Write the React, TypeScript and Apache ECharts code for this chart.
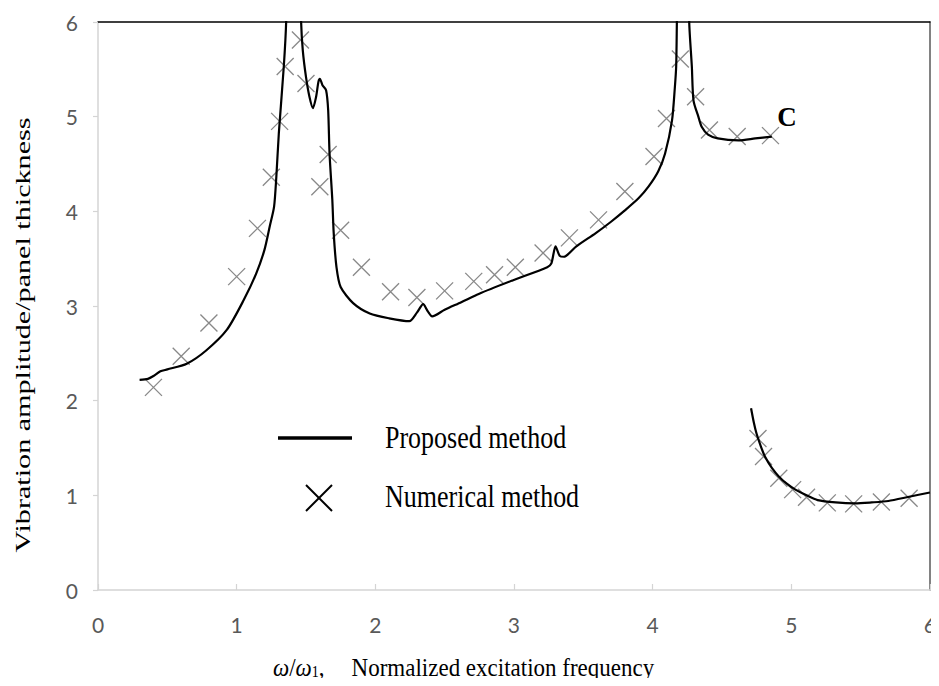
import React, { useEffect, useRef } from "react";
import * as echarts from "echarts";

// Proposed method (analytical), upper branch "C" – [frequency ratio, amplitude]
const proposedUpper: number[][] = [
  [0.30, 2.22], [0.36, 2.23], [0.40, 2.26], [0.45, 2.31], [0.50, 2.33],
  [0.64, 2.39], [0.78, 2.53], [0.93, 2.75], [1.05, 3.06], [1.14, 3.34],
  [1.20, 3.59], [1.24, 3.85], [1.27, 4.05], [1.286, 4.36], [1.304, 4.82],
  [1.34, 5.53], [1.357, 6.0], [1.368, 7.0], [1.40, 8.5], [1.45, 7.0],
  [1.465, 6.0], [1.477, 5.70], [1.50, 5.42], [1.525, 5.21], [1.55, 5.09],
  [1.573, 5.21], [1.59, 5.37], [1.60, 5.40], [1.62, 5.33], [1.645, 5.28],
  [1.66, 5.07], [1.67, 4.61], [1.69, 4.12], [1.70, 3.77], [1.72, 3.41],
  [1.75, 3.20], [1.84, 3.03], [1.96, 2.92], [2.10, 2.87], [2.245, 2.84],
  [2.30, 2.93], [2.345, 3.02], [2.38, 2.94], [2.41, 2.89], [2.50, 2.96],
  [2.62, 3.04], [2.75, 3.13], [2.99, 3.27], [3.24, 3.41], [3.27, 3.45],
  [3.30, 3.63], [3.33, 3.53], [3.36, 3.52], [3.45, 3.63], [3.59, 3.77],
  [3.70, 3.89], [3.80, 4.01], [3.90, 4.14], [3.97, 4.26], [4.04, 4.42],
  [4.09, 4.61], [4.14, 4.96], [4.16, 5.3], [4.17, 5.53], [4.175, 6.0],
  [4.19, 7.5], [4.22, 8.5], [4.25, 7.5], [4.264, 6.0], [4.283, 5.53],
  [4.295, 5.17], [4.33, 5.0], [4.355, 4.89], [4.40, 4.81], [4.47, 4.77],
  [4.62, 4.75], [4.74, 4.77], [4.86, 4.79],
];

// Proposed method, lower branch
const proposedLower: number[][] = [
  [4.71, 1.92], [4.73, 1.77], [4.75, 1.65], [4.78, 1.52], [4.81, 1.41],
  [4.86, 1.29], [4.91, 1.20], [4.97, 1.12], [5.03, 1.06], [5.11, 1.00],
  [5.19, 0.95], [5.32, 0.925], [5.46, 0.915], [5.58, 0.925], [5.70, 0.94],
  [5.85, 0.985], [6.00, 1.03],
];

// Numerical method
const numerical: number[][] = [
  [0.40, 2.14], [0.60, 2.47], [0.80, 2.82], [1.00, 3.31], [1.15, 3.82],
  [1.25, 4.36], [1.31, 4.95], [1.35, 5.53], [1.46, 5.81], [1.50, 5.35],
  [1.60, 4.26], [1.66, 4.60], [1.75, 3.80], [1.90, 3.41], [2.11, 3.15],
  [2.30, 3.09], [2.50, 3.16], [2.71, 3.26], [2.86, 3.33], [3.01, 3.41],
  [3.21, 3.56], [3.40, 3.72], [3.61, 3.91], [3.80, 4.21], [4.01, 4.58],
  [4.10, 4.98], [4.20, 5.61], [4.31, 5.21], [4.41, 4.86], [4.61, 4.79],
  [4.85, 4.80],
  [4.76, 1.60], [4.80, 1.41], [4.91, 1.18], [5.01, 1.06], [5.11, 0.98],
  [5.26, 0.92], [5.45, 0.91], [5.65, 0.93], [5.85, 0.97],
];

const xTicks = [0, 1, 2, 3, 4, 5, 6];
const yTicks = [0, 1, 2, 3, 4, 5, 6];

const yTitle = "Vibration amplitude/panel thickness";
const xTitleRest = "Normalized excitation frequency";
const legendNames = ["Proposed method", "Numerical method"];
const branchLabel = "C";

const SERIF = "'Liberation Serif', 'Times New Roman', serif";
const SANS = "Lato, 'Open Sans', sans-serif";

export default function App() {
  const ref = useRef<HTMLDivElement>(null);

  useEffect(() => {
    if (!ref.current) return;
    const chart = echarts.init(ref.current, undefined, { renderer: "svg" });

    const crossPath = "path://M0,0L10,10M10,0L0,10";

    chart.setOption({
      animation: false,
      backgroundColor: "#ffffff",
      grid: { left: 98, right: 7, top: 22, bottom: 96, containLabel: false },
      xAxis: [
        {
          type: "value",
          position: "bottom",
          min: xTicks[0],
          max: xTicks[xTicks.length - 1],
          interval: 1,
          axisLine: { show: true, onZero: false, lineStyle: { color: "#d4d4d4", width: 1.5 } },
          axisTick: { show: true, inside: true, length: 6, lineStyle: { color: "#d4d4d4", width: 1.2 } },
          axisLabel: { color: "#595959", fontSize: 21, fontFamily: SANS, margin: 24 },
          splitLine: { show: false },
        },
        {
          type: "value",
          position: "top",
          min: 0,
          max: 6,
          interval: 1,
          axisLine: { show: true, onZero: false, lineStyle: { color: "#000000", width: 1.5 } },
          axisTick: { show: false },
          axisLabel: { show: false },
          splitLine: { show: false },
        },
      ],
      yAxis: [
        {
          type: "value",
          position: "left",
          min: yTicks[0],
          max: yTicks[yTicks.length - 1],
          interval: 1,
          axisLine: { show: true, onZero: false, lineStyle: { color: "#d4d4d4", width: 1.5 } },
          axisTick: { show: true, inside: false, length: 5, lineStyle: { color: "#d4d4d4", width: 1.2 } },
          axisLabel: { color: "#595959", fontSize: 21, fontFamily: SANS, margin: 20 },
          splitLine: { show: false },
        },
        {
          type: "value",
          position: "right",
          min: 0,
          max: 6,
          interval: 1,
          axisLine: { show: true, onZero: false, lineStyle: { color: "#595959", width: 1.5 } },
          axisTick: { show: false },
          axisLabel: { show: false },
          splitLine: { show: false },
        },
      ],
      series: [
        {
          name: legendNames[0],
          type: "line",
          data: proposedUpper,
          showSymbol: false,
          smooth: 0.25,
          clip: true,
          lineStyle: { color: "#000000", width: 2.2 },
          z: 3,
        },
        {
          name: legendNames[0] + " (lower)",
          type: "line",
          data: proposedLower,
          showSymbol: false,
          smooth: 0.25,
          clip: true,
          lineStyle: { color: "#000000", width: 2.2 },
          z: 3,
        },
        {
          name: legendNames[1],
          type: "scatter",
          data: numerical,
          symbol: crossPath,
          symbolSize: 17,
          itemStyle: { color: "rgba(0,0,0,0)", borderColor: "#6a6a6a", borderWidth: 1.3 },
          z: 2,
        },
      ],
      graphic: [
        {
          type: "text",
          x: 22,
          y: 335,
          rotation: Math.PI / 2,
          scaleX: 1.37,
          style: {
            text: yTitle,
            font: `22px ${SERIF}`,
            fill: "#000000",
            align: "center",
            verticalAlign: "middle",
          },
        },
        {
          type: "text",
          x: 273,
          y: 667,
          scaleY: 1.12,
          style: {
            text: `{w|ω}{n|/}{w|ω}{s|1}{n|,}{m|${xTitleRest}}`,
            fill: "#000000",
            align: "left",
            verticalAlign: "middle",
            rich: {
              w: { fontFamily: SERIF, fontStyle: "italic", fontSize: 23, fill: "#000" },
              n: { fontFamily: SERIF, fontSize: 23, fill: "#000" },
              s: { fontFamily: SERIF, fontSize: 14, fill: "#000", verticalAlign: "bottom" },
              m: { fontFamily: SERIF, fontSize: 23, fill: "#000", padding: [0, 0, 0, 27] },
            },
          },
        },
        {
          type: "line",
          shape: { x1: 278, y1: 438, x2: 352, y2: 438 },
          style: { stroke: "#000000", lineWidth: 3.5 },
        },
        {
          type: "text",
          x: 385,
          y: 437,
          scaleY: 1.2,
          style: {
            text: legendNames[0],
            font: `26px ${SERIF}`,
            fill: "#000000",
            align: "left",
            verticalAlign: "middle",
          },
        },
        {
          type: "line",
          shape: { x1: 306, y1: 485, x2: 332, y2: 511 },
          style: { stroke: "#000000", lineWidth: 2 },
        },
        {
          type: "line",
          shape: { x1: 332, y1: 485, x2: 306, y2: 511 },
          style: { stroke: "#000000", lineWidth: 2 },
        },
        {
          type: "text",
          x: 385,
          y: 496,
          scaleY: 1.2,
          style: {
            text: legendNames[1],
            font: `26px ${SERIF}`,
            fill: "#000000",
            align: "left",
            verticalAlign: "middle",
          },
        },
        {
          type: "text",
          x: 787,
          y: 117,
          style: {
            text: branchLabel,
            font: `bold 27px ${SERIF}`,
            fill: "#000000",
            align: "center",
            verticalAlign: "middle",
          },
        },
      ],
    });

    return () => {
      chart.dispose();
    };
  }, []);

  return <div ref={ref} style={{ width: 939, height: 686, margin: -8 }} />;
}
